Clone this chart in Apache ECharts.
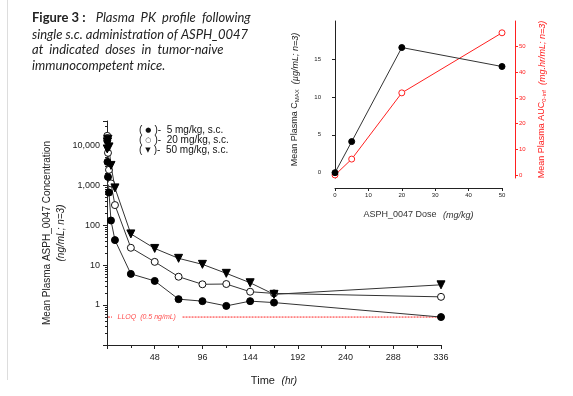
<!DOCTYPE html>
<html>
<head>
<meta charset="utf-8">
<script src="https://cdn.jsdelivr.net/npm/echarts@6/dist/echarts.min.js"></script>
<style>
  html, body { margin: 0; padding: 0; background: #fff; }
  #chart { width: 573px; height: 396px; }
</style>
</head>
<body>
<div id="chart"></div>
<script>
// PK profile (hours after dose, ng/mL)
const times = [0.25, 0.5, 1, 2, 4, 8, 24, 48, 72, 96, 120, 144, 168, 336];
const conc5 = [13000, 3800, 1600, 650, 130, 42, 6, 4, 1.4, 1.25, 0.95, 1.25, 1.15, 0.5];
const conc20 = [17000, 15000, 6400, 2400, 1100, 316, 27, 12, 5.1, 3.3, 3.35, 2.15, 1.95, 1.6];
const conc50 = [8000, 12000, 14000, 9000, 3100, 850, 60, 26, 14.7, 10.4, 6.2, 3.6, 1.85, 3.2];
const seriesNames = ['5 mg/kg, s.c.', '20 mg/kg, s.c.', '50 mg/kg, s.c.'];
const legendMarks = ['\u25CF', '\u25CB', '\u25BC'];

const lloq = 0.5;
const lloqSegments = [[1, 5], [76, 336]];
const lloqLabelAt = 40;

// inset: dose response
const doses = [0, 5, 20, 50];
const cmax = [0, 4.1, 16.5, 14.0];
const auc = [0, 6.2, 32, 55.4];
const cmaxTicks = [0, 5, 10, 15];
const aucTicks = [0, 10, 20, 30, 40, 50];

const font = 'Liberation Sans, Arial, sans-serif';
const pairs = (xs, ys) => xs.map((x, i) => [x, ys[i]]);

const myChart = echarts.init(document.getElementById('chart'));

const lineBase = {
  type: 'line',
  xAxisIndex: 0,
  yAxisIndex: 0,
  lineStyle: { color: '#333', width: 1 },
  emphasis: { disabled: true },
  z: 3,
};

const option = {
  animation: false,
  textStyle: { fontFamily: font },
  title: {
    left: 27,
    top: 4,
    text: '{b|Figure 3 :}  {i|Plasma  PK  profile  following}\n{i|single s.c. administration of ASPH_0047}\n{i|at  indicated  doses  in  tumor-naive}\n{i|immunocompetent mice.}',
    textStyle: {
      rich: {
        b: { fontFamily: 'Lato', fontWeight: 'bold', fontSize: 13, color: '#222', lineHeight: 15.5 },
        i: { fontFamily: 'Lato', fontStyle: 'italic', fontWeight: 'normal', fontSize: 13, color: '#222', lineHeight: 15.5 },
      },
    },
  },
  graphic: [
    { type: 'line', shape: { x1: 7.5, y1: 0, x2: 7.5, y2: 380 }, style: { stroke: '#ddd', lineWidth: 1 } },
  ],
  legend: {
    data: seriesNames,
    orient: 'vertical',
    left: 128,
    top: 120,
    itemWidth: 0,
    itemHeight: 0,
    itemGap: 0,
    selectedMode: false,
    formatter: (name) => {
      const i = seriesNames.indexOf(name);
      return '{t|(}{m|' + legendMarks[i] + '}{t|)-  ' + name + '}';
    },
    textStyle: {
      fontFamily: font,
      fontSize: 10,
      color: '#111',
      lineHeight: 9,
      rich: {
        t: { fontFamily: font, fontSize: 10, color: '#111', lineHeight: 9 },
        m: { fontFamily: 'DejaVu Sans', fontSize: 7, color: '#111', lineHeight: 9, padding: [0, 3, 0, 3] },
      },
    },
  },
  grid: [
    { left: 107, right: 132, top: 121, bottom: 51 },
    { left: 335, right: 71, top: 21, bottom: 218 },
  ],
  xAxis: [
    {
      gridIndex: 0,
      type: 'value',
      min: 0,
      max: 336,
      interval: 48,
      name: '{a|Time}  {i|(hr)}',
      nameLocation: 'middle',
      nameGap: 30,
      nameMoveOverlap: false,
      nameTextStyle: {
        rich: {
          a: { fontFamily: font, fontSize: 11, color: '#222' },
          i: { fontFamily: font, fontSize: 10, fontStyle: 'italic', color: '#222' },
        },
      },
      splitLine: { show: false },
      axisLine: { lineStyle: { color: '#222', width: 1 } },
      axisTick: { length: 4, lineStyle: { color: '#222' } },
      minorTick: { show: true, splitNumber: 2, length: 3, lineStyle: { color: '#222' } },
      axisLabel: {
        fontSize: 9,
        color: '#222',
        margin: 8,
        formatter: (v) => (v === 0 ? '' : String(v)),
      },
    },
    {
      gridIndex: 1,
      type: 'value',
      min: 0,
      max: 50,
      interval: 10,
      offset: 10,
      name: '{a|ASPH_0047 Dose}  {i|(mg/kg)}',
      nameLocation: 'middle',
      nameGap: 21,
      nameMoveOverlap: false,
      nameTextStyle: {
        rich: {
          a: { fontFamily: font, fontSize: 9, color: '#333' },
          i: { fontFamily: font, fontSize: 9, fontStyle: 'italic', color: '#333' },
        },
      },
      splitLine: { show: false },
      axisLine: { onZero: false, lineStyle: { color: '#222', width: 1 } },
      axisTick: { length: 3, lineStyle: { color: '#222' } },
      axisLabel: { fontSize: 6, color: '#222', margin: 4 },
    },
  ],
  yAxis: [
    {
      gridIndex: 0,
      type: 'log',
      logBase: 10,
      min: 0.1,
      max: 40000,
      name: '{a|Mean Plasma ASPH_0047 Concentration}\n{i|(ng/mL; n=3)}',
      nameLocation: 'middle',
      nameRotate: 90,
      nameGap: 39,
      nameMoveOverlap: false,
      nameTextStyle: {
        rich: {
          a: { fontFamily: font, fontSize: 10, color: '#222', lineHeight: 14 },
          i: { fontFamily: font, fontSize: 10, fontStyle: 'italic', color: '#222', lineHeight: 14 },
        },
      },
      splitLine: { show: false },
      axisLine: { show: true, lineStyle: { color: '#222', width: 1 } },
      axisTick: { show: true, length: 4, lineStyle: { color: '#222' } },
      minorTick: { show: true, splitNumber: 9, length: 2, lineStyle: { color: '#222' } },
      axisLabel: {
        fontSize: 9,
        color: '#222',
        margin: 7,
        formatter: (v) => {
          const e = Math.log10(v);
          if (v < 1 || Math.abs(e - Math.round(e)) > 1e-6) return '';
          return Math.round(v).toLocaleString('en-US');
        },
      },
    },
    {
      gridIndex: 1,
      type: 'value',
      position: 'left',
      min: -0.7,
      max: 20,
      offset: 10,
      name: 'Mean Plasma C{s|MAX}  {i|(\u00B5g/mL; n=3)}',
      nameLocation: 'middle',
      nameRotate: 90,
      nameGap: 25,
      nameMoveOverlap: false,
      nameTextStyle: {
        fontFamily: font,
        fontSize: 9,
        color: '#222',
        rich: {
          s: { fontFamily: font, fontSize: 6, color: '#222', padding: [4, 0, 0, 0] },
          i: { fontFamily: font, fontSize: 9, fontStyle: 'italic', color: '#222' },
        },
      },
      splitLine: { show: false },
      axisLine: { show: true, lineStyle: { color: '#222', width: 1 } },
      axisTick: { show: true, length: 3, customValues: cmaxTicks, lineStyle: { color: '#222' } },
      axisLabel: { fontSize: 6, color: '#222', margin: 4, customValues: cmaxTicks },
    },
    {
      gridIndex: 1,
      type: 'value',
      position: 'right',
      min: -1.17,
      max: 60,
      offset: 13,
      name: 'Mean Plasma AUC{s|0-inf}  {i|(mg.hr/mL; n=3)}',
      nameLocation: 'middle',
      nameRotate: 90,
      nameGap: 22,
      nameMoveOverlap: false,
      nameTextStyle: {
        fontFamily: font,
        fontSize: 9,
        color: '#ff2020',
        rich: {
          s: { fontFamily: font, fontSize: 6, color: '#ff2020', padding: [4, 0, 0, 0] },
          i: { fontFamily: font, fontSize: 9, fontStyle: 'italic', color: '#ff2020' },
        },
      },
      splitLine: { show: false },
      axisLine: { show: true, lineStyle: { color: '#ff2020', width: 1 } },
      axisTick: { show: true, length: 3, customValues: aucTicks, lineStyle: { color: '#ff2020' } },
      axisLabel: { fontSize: 6, color: '#ff2020', margin: 4, customValues: aucTicks },
    },
  ],
  series: [
    Object.assign({}, lineBase, {
      name: seriesNames[0],
      data: pairs(times, conc5),
      symbol: 'circle',
      symbolSize: 7,
      itemStyle: { color: '#000', borderColor: '#000', borderWidth: 1 },
    }),
    Object.assign({}, lineBase, {
      name: seriesNames[1],
      data: pairs(times, conc20),
      symbol: 'circle',
      symbolSize: 7,
      itemStyle: { color: '#fff', borderColor: '#111', borderWidth: 1 },
    }),
    Object.assign({}, lineBase, {
      name: seriesNames[2],
      data: pairs(times, conc50),
      symbol: 'triangle',
      symbolRotate: 180,
      symbolSize: 8,
      itemStyle: { color: '#000', borderColor: '#000', borderWidth: 1 },
    }),
    {
      name: 'LLOQ',
      type: 'line',
      xAxisIndex: 0,
      yAxisIndex: 0,
      symbol: 'none',
      data: [
        [lloqSegments[0][0], lloq], [lloqSegments[0][1], lloq],
        [lloqSegments[0][1], '-'],
        [lloqSegments[1][0], lloq], [lloqSegments[1][1], lloq],
      ],
      lineStyle: { color: '#ff2020', width: 1, type: [2, 1] },
      z: 2,
      silent: true,
    },
    {
      name: 'LLOQ label',
      type: 'scatter',
      xAxisIndex: 0,
      yAxisIndex: 0,
      symbolSize: 0,
      data: [[lloqLabelAt, lloq]],
      label: {
        show: true,
        position: 'inside',
        formatter: 'LLOQ  (0.5 ng/mL)',
        fontFamily: font,
        fontSize: 7,
        fontStyle: 'italic',
        color: '#ff2020',
      },
      silent: true,
    },
    {
      name: 'Cmax',
      type: 'line',
      xAxisIndex: 1,
      yAxisIndex: 1,
      data: pairs(doses, cmax),
      symbol: 'circle',
      symbolSize: 6,
      lineStyle: { color: '#333', width: 1 },
      itemStyle: { color: '#000', borderColor: '#000', borderWidth: 1 },
      emphasis: { disabled: true },
      z: 4,
    },
    {
      name: 'AUC',
      type: 'line',
      xAxisIndex: 1,
      yAxisIndex: 2,
      data: pairs(doses, auc),
      symbol: 'circle',
      symbolSize: 6,
      lineStyle: { color: '#ff2020', width: 1 },
      itemStyle: { color: '#fff', borderColor: '#ff2020', borderWidth: 1 },
      emphasis: { disabled: true },
      z: 3,
    },
  ],
};

myChart.setOption(option);
</script>
</body>
</html>
